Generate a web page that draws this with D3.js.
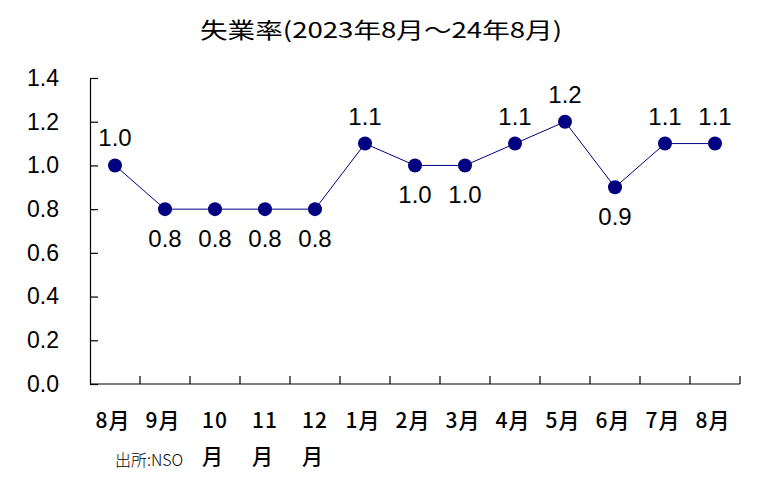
<!DOCTYPE html>
<html>
<head>
<meta charset="utf-8">
<script src="https://cdn.jsdelivr.net/npm/d3@7"></script>
<style>
  body { margin: 0; background: #fff; }
  svg { display: block; }
</style>
</head>
<body>
<svg id="chart" width="782" height="503"></svg>
<script>
// 失業率 2023年8月〜2024年8月（%）
var months = ["2023-08", "2023-09", "2023-10", "2023-11", "2023-12", "2024-01", "2024-02",
              "2024-03", "2024-04", "2024-05", "2024-06", "2024-07", "2024-08"];
var monthLabels = ["8月", "9月", "10月", "11月", "12月", "1月", "2月", "3月", "4月", "5月", "6月", "7月", "8月"];
var rates = [1.0, 0.8, 0.8, 0.8, 0.8, 1.1, 1.0, 1.0, 1.1, 1.2, 0.9, 1.1, 1.1];
var yTicks = [0.0, 0.2, 0.4, 0.6, 0.8, 1.0, 1.2, 1.4];
// ラベルの位置 (上 / 下)
var labelSide = ["up", "down", "down", "down", "down", "up", "down", "down", "up", "up", "down", "up", "up"];

var svg = d3.select("#chart");
// window.top と重ならないように名前を変える
var plotLeft = 90, plotRight = 740, plotTop = 78, plotBottom = 384;

var x = d3.scaleBand().domain(months).range([plotLeft, plotRight]).padding(0);
var y = d3.scaleLinear().domain([0, 1.4]).range([plotBottom, plotTop]);

var latin = "'Liberation Sans', Arial, sans-serif";
var cjk = "'Noto Sans CJK JP', sans-serif";

// タイトル
svg.append("text")
    .attr("x", 381).attr("y", 38)
    .attr("text-anchor", "middle")
    .attr("font-family", cjk)
    .attr("font-size", 22)
    .attr("textLength", 362)
    .attr("lengthAdjust", "spacingAndGlyphs")
    .text("失業率(2023年8月～24年8月)");

// y軸
var yAxis = d3.axisLeft(y)
    .tickValues(yTicks)
    .tickFormat(d3.format(".1f"))
    .tickSizeInner(-8)
    .tickSizeOuter(0)
    .tickPadding(31);

var gy = svg.append("g").attr("transform", "translate(" + plotLeft + ",0)").call(yAxis);
gy.select(".domain").attr("stroke", "#000").attr("stroke-width", 1.2);
gy.selectAll(".tick line").attr("stroke", "#000").attr("stroke-width", 1.2);
gy.selectAll(".tick text")
    .attr("font-family", latin)
    .attr("font-size", 23)
    .attr("fill", "#000");

// x軸 (目盛りは区切りの位置)
svg.append("line")
    .attr("x1", plotLeft).attr("x2", plotRight)
    .attr("y1", plotBottom).attr("y2", plotBottom)
    .attr("stroke", "#000").attr("stroke-width", 1.2);

var bounds = months.slice(1).map(function(m) { return x(m); }).concat([plotRight]);
svg.selectAll(".xtick")
    .data(bounds)
    .enter()
    .append("line")
    .attr("class", "xtick")
    .attr("x1", function(d) { return d; })
    .attr("x2", function(d) { return d; })
    .attr("y1", plotBottom)
    .attr("y2", plotBottom - 8)
    .attr("stroke", "#000").attr("stroke-width", 1.2);

// 月ラベル (幅が足りないものは折り返し)
var xl = svg.selectAll(".xlabel")
    .data(months)
    .enter()
    .append("text")
    .attr("class", "xlabel")
    .attr("text-anchor", "middle")
    .attr("font-family", cjk)
    .attr("font-weight", 500)
    .attr("font-size", 21)
    .attr("letter-spacing", 1)
    .attr("fill", "#000");

xl.each(function(m, i) {
    var t = d3.select(this);
    var cx = x(m) + x.bandwidth() / 2 - 2;
    var lab = monthLabels[i];
    if (lab.length > 2) {
        t.append("tspan").attr("x", cx + 2).attr("y", 428).text(lab.slice(0, -1));
        t.append("tspan").attr("x", cx).attr("y", 464).text(lab.slice(-1));
    } else {
        t.append("tspan").attr("x", cx).attr("y", 428).text(lab);
    }
});

// 折れ線
var line = d3.line()
    .x(function(d, i) { return x(months[i]) + x.bandwidth() / 2; })
    .y(function(d) { return y(d); });

svg.append("path")
    .datum(rates)
    .attr("d", line)
    .attr("fill", "none")
    .attr("stroke", "#000080")
    .attr("stroke-width", 1);

svg.selectAll(".dot")
    .data(rates)
    .enter()
    .append("circle")
    .attr("class", "dot")
    .attr("cx", function(d, i) { return x(months[i]) + x.bandwidth() / 2; })
    .attr("cy", function(d) { return y(d); })
    .attr("r", 7)
    .attr("fill", "#000080");

// 数値ラベル
svg.selectAll(".val")
    .data(rates)
    .enter()
    .append("text")
    .attr("class", "val")
    .attr("x", function(d, i) { return x(months[i]) + x.bandwidth() / 2; })
    .attr("y", function(d, i) { return y(d) + (labelSide[i] === "up" ? -19 : 38); })
    .attr("text-anchor", "middle")
    .attr("font-family", latin)
    .attr("font-size", 24)
    .attr("fill", "#000")
    .text(function(d) { return d3.format(".1f")(d); });

// 出所
svg.append("text")
    .attr("x", 115).attr("y", 466)
    .attr("font-family", cjk)
    .attr("font-weight", 300)
    .attr("font-size", 16)
    .attr("fill", "#000")
    .text("出所:NSO");
</script>
</body>
</html>
